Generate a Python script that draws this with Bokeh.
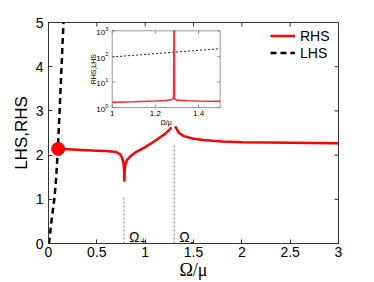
import math
from bokeh.plotting import figure
from bokeh.models import (Range1d, FixedTicker, CustomJSTickFormatter,
                          Legend, LegendItem, LogScale)
from bokeh.core.properties import value
from bokeh.embed import file_html
from bokeh.resources import INLINE

# ---------------- data ----------------
x_ticks = [0, 0.5, 1, 1.5, 2, 2.5, 3]
y_ticks = [0, 1, 2, 3, 4, 5]
x_lim = [0, 3]
y_lim = [0, 5]

# RHS curve, left branch (through the Omega+ cusp) and right branch (after Omega-)
rhs_left_x = [0.10, 0.20, 0.30, 0.40, 0.50, 0.60, 0.65, 0.70, 0.74, 0.76, 0.775, 0.782, 0.785,
              0.788, 0.795, 0.81, 0.85, 0.90, 1.00, 1.10, 1.20, 1.25, 1.27]
rhs_left_y = [2.14, 2.13, 2.12, 2.11, 2.10, 2.09, 2.08, 2.07, 2.02, 1.95, 1.83, 1.65, 1.40,
              1.65, 1.78, 1.88, 1.98, 2.06, 2.18, 2.32, 2.47, 2.57, 2.63]
rhs_right_x = [1.31, 1.35, 1.40, 1.50, 1.60, 1.80, 2.00, 2.50, 3.00]
rhs_right_y = [2.65, 2.50, 2.43, 2.37, 2.34, 2.31, 2.29, 2.28, 2.27]

lhs_x = [0.005, 0.03, 0.06, 0.08, 0.097, 0.115, 0.135, 0.155]
lhs_y = [0.0, 0.5, 1.0, 1.5, 2.14, 3.0, 4.0, 5.0]

crossing_x = [0.1]
crossing_y = [2.14]

omega_x = [0.78, 1.3]
omega_top = [1.07, 2.22]
omega_subs = ["+", "-"]

# inset (log y)
inset_x_ticks = [1.0, 1.2, 1.4]
inset_x_labels = ["1", "1.2", "1.4"]
inset_y_ticks = [1, 10, 100, 1000]
inset_y_exps = ["0", "1", "2", "3"]
inset_xlim = [1.0, 1.5]
inset_ylim = [1, 1000]
inset_rhs_x = [1.0, 1.1, 1.2, 1.25, 1.27, 1.28, 1.284, 1.286, 1.2875, 1.289, 1.3, 1.35, 1.4, 1.5]
inset_rhs_y = [1.6, 1.7, 1.82, 1.9, 2.0, 2.2, 2.35, 1000, 1000, 2.1, 1.95, 1.85, 1.8, 1.75]
inset_lhs_x = [1.0, 1.5]
inset_lhs_y = [95, 200]

# ---------------- layout of inset inside main frame (fractions of frame) ----------------
fl, fr = 0.2197, 0.592      # left / right, from frame left
ft, fb = 0.0375, 0.385      # top / bottom, from frame top
span_x = (inset_xlim[1] - inset_xlim[0]) / (fr - fl)
ix_start = inset_xlim[0] - fl * span_x
ix_end = ix_start + span_x
dec = math.log10(inset_ylim[1]) - math.log10(inset_ylim[0])
span_y = dec / (fb - ft)
iy_top = math.log10(inset_ylim[1]) + ft * span_y
iy_bot = iy_top - span_y

FONT = "Liberation Sans"
SERIF = "Liberation Serif"
AX = "#333333"

p = figure(width=374, height=282, x_range=Range1d(*x_lim), y_range=Range1d(*y_lim),
           output_backend="svg", toolbar_location=None,
           min_border_left=48, min_border_right=36, min_border_top=22, min_border_bottom=39,
           x_axis_label="Ω/μ", y_axis_label="LHS,RHS")
p.outline_line_color = AX
p.xgrid.visible = False
p.ygrid.visible = False

fmt = CustomJSTickFormatter(code="return tick.toString();")
for ax in list(p.xaxis) + list(p.yaxis):
    ax.formatter = fmt
    ax.major_tick_in = 4
    ax.major_tick_out = 0
    ax.minor_tick_line_color = None
    ax.axis_line_color = AX
    ax.major_tick_line_color = AX
    ax.major_label_text_font = FONT
    ax.major_label_text_font_size = "14px"
    ax.major_label_text_color = "black"
    ax.axis_label_text_font = FONT
    ax.axis_label_text_font_style = "normal"
    ax.axis_label_text_color = "black"
for ax in p.xaxis:
    ax.ticker = FixedTicker(ticks=x_ticks)
    ax.major_label_standoff = 3
    ax.axis_label_standoff = 0
    ax.axis_label_text_font = SERIF
    ax.axis_label_text_font_size = "18px"
for ax in p.yaxis:
    ax.ticker = FixedTicker(ticks=y_ticks)
    ax.major_label_standoff = 5
    ax.axis_label_standoff = 2
    ax.axis_label_text_font_size = "17px"

# top / right inward ticks (box like the reference)
p.ray(x=x_ticks, y=[y_lim[1]] * len(x_ticks), length=4, length_units="screen",
      angle=-math.pi / 2, line_color=AX, line_width=1)
p.ray(x=[x_lim[1]] * len(y_ticks), y=y_ticks, length=4, length_units="screen",
      angle=math.pi, line_color=AX, line_width=1)

# main curves
r_rhs = p.line(rhs_left_x, rhs_left_y, line_color="#ff0000", line_width=2.5)
p.line(rhs_right_x, rhs_right_y, line_color="#ff0000", line_width=2.5)
r_lhs = p.line(lhs_x, lhs_y, line_color="black", line_width=2.5, line_dash="6 4")
p.scatter(crossing_x, crossing_y, size=13, fill_color="#ff0000", line_color="#ff0000")

# Omega markers
p.segment(x0=omega_x, y0=[0, 0], x1=omega_x, y1=omega_top, line_color="#555555",
          line_width=0.8, line_dash="2 2")
p.text(x=omega_x, y=[0.15, 0.15], text=["Ω", "Ω"], x_offset=5, text_align="left",
       text_baseline="alphabetic", text_font=value(FONT), text_font_size="14px",
       text_color="black")
p.text(x=omega_x, y=[0.15, 0.15], text=omega_subs, x_offset=16, y_offset=4,
       text_align="left", text_baseline="alphabetic", text_font=value(FONT),
       text_font_size="11px", text_color="black")

# ---------------- inset ----------------
p.extra_x_ranges = {"ix": Range1d(ix_start, ix_end)}
p.extra_y_ranges = {"iy": Range1d(10 ** iy_bot, 10 ** iy_top)}
p.extra_y_scales = {"iy": LogScale()}
kw = dict(x_range_name="ix", y_range_name="iy")

p.quad(left=[inset_xlim[0]], right=[inset_xlim[1]], bottom=[inset_ylim[0]], top=[inset_ylim[1]],
       fill_color="white", line_color="#9a9a9a", line_width=1, **kw)
p.line(inset_lhs_x, inset_lhs_y, line_color="#222222", line_width=1, line_dash="2 2", **kw)
p.line(inset_rhs_x, inset_rhs_y, line_color="#ff3030", line_width=1.6, **kw)

# inset ticks
n = len(inset_x_ticks)
p.ray(x=inset_x_ticks, y=[inset_ylim[0]] * n, length=3, length_units="screen",
      angle=math.pi / 2, line_color="#777777", line_width=0.8, **kw)
p.ray(x=inset_x_ticks, y=[inset_ylim[1]] * n, length=3, length_units="screen",
      angle=-math.pi / 2, line_color="#777777", line_width=0.8, **kw)
m = len(inset_y_ticks)
p.ray(x=[inset_xlim[0]] * m, y=inset_y_ticks, length=3, length_units="screen",
      angle=0, line_color="#777777", line_width=0.8, **kw)
p.ray(x=[inset_xlim[1]] * m, y=inset_y_ticks, length=3, length_units="screen",
      angle=math.pi, line_color="#777777", line_width=0.8, **kw)

# inset tick labels
p.text(x=inset_x_ticks, y=[inset_ylim[0]] * n, text=inset_x_labels, y_offset=3,
       text_align="center", text_baseline="top", text_font=value(FONT),
       text_font_size="8px", text_color="black", **kw)
p.text(x=[inset_xlim[0]] * m, y=inset_y_ticks, text=["10"] * m, x_offset=-7, y_offset=2,
       text_align="right", text_baseline="middle", text_font=value(FONT),
       text_font_size="8px", text_color="black", **kw)
p.text(x=[inset_xlim[0]] * m, y=inset_y_ticks, text=inset_y_exps, x_offset=-7, y_offset=-2,
       text_align="left", text_baseline="middle", text_font=value(FONT),
       text_font_size="5.5px", text_color="black", **kw)
p.text(x=[(inset_xlim[0] + inset_xlim[1]) / 2], y=[inset_ylim[0]], text=["Ω/μ"], y_offset=11,
       text_align="center", text_baseline="top", text_font=value(FONT),
       text_font_size="7px", text_color="black", **kw)
p.text(x=[inset_xlim[0]], y=[math.sqrt(inset_ylim[0] * inset_ylim[1])], text=["RHS,LHS"],
       x_offset=-19, angle=math.pi / 2, text_align="center", text_baseline="middle",
       text_font=value(FONT), text_font_size="7px", text_color="black", **kw)

# legend
legend = Legend(items=[LegendItem(label="RHS", renderers=[r_rhs]),
                       LegendItem(label="LHS", renderers=[r_lhs])],
                location=(222, 182), border_line_color=None, background_fill_alpha=0,
                label_text_font=FONT, label_text_font_size="14px", label_text_color="black",
                glyph_width=25, glyph_height=17, label_height=17, label_standoff=5,
                spacing=0, padding=0, margin=0)
p.add_layout(legend)

open("out.html", "w").write(file_html(p, INLINE))
